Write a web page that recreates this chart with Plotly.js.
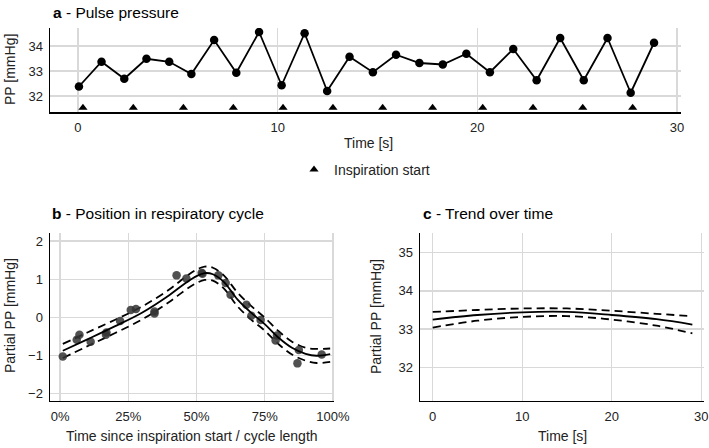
<!DOCTYPE html>
<html>
<head>
<meta charset="utf-8">
<script src="https://cdn.plot.ly/plotly-3.0.1.min.js"></script>
<style>html,body{margin:0;padding:0;background:#fff;}#chart{width:709px;height:448px;}</style>
</head>
<body>
<div id="chart"></div>
<script>
// Panel a: pulse pressure per beat
const ppTime = [0.05,1.18,2.32,3.43,4.57,5.68,6.82,7.93,9.07,10.2,11.35,12.48,13.6,14.77,15.93,17.1,18.27,19.45,20.63,21.8,22.97,24.15,25.33,26.52,27.68,28.85];
const ppValue = [32.38,33.37,32.69,33.49,33.37,32.88,34.24,32.93,34.56,32.43,34.51,32.2,33.57,32.95,33.65,33.32,33.26,33.69,32.95,33.88,32.63,34.32,32.63,34.32,32.13,34.13];
const inspTime = [0.25,2.77,5.28,7.78,10.27,12.77,15.26,17.76,20.27,22.79,25.28,27.78];
const inspLevel = [31.53,31.53,31.53,31.53,31.53,31.53,31.53,31.53,31.53,31.53,31.53,31.53];

// Panel b: position in respiratory cycle
const cyclePos = [0.01,0.061,0.071,0.112,0.168,0.17,0.22,0.259,0.278,0.346,0.346,0.427,0.463,0.519,0.522,0.58,0.607,0.625,0.683,0.701,0.735,0.795,0.79,0.875,0.87,0.959];
const partialPP = [-1.03,-0.59,-0.46,-0.64,-0.46,-0.40,-0.10,0.19,0.22,0.15,0.10,1.10,1.02,1.17,1.14,1.10,0.90,0.59,0.33,0.04,-0.07,-0.48,-0.61,-0.86,-1.21,-0.98];
const fitPos = [0.01,0.10,0.20,0.30,0.40,0.46,0.50,0.53,0.56,0.60,0.65,0.70,0.75,0.80,0.85,0.90,0.94,0.99];
const fitMid = [-0.88,-0.58,-0.24,0.12,0.58,0.90,1.08,1.16,1.13,0.93,0.47,0.12,-0.18,-0.53,-0.80,-0.96,-1.01,-0.97];
const fitUpper = [-0.70,-0.40,-0.07,0.28,0.73,1.06,1.25,1.33,1.30,1.10,0.65,0.30,-0.01,-0.36,-0.64,-0.80,-0.83,-0.82];
const fitLower = [-1.07,-0.76,-0.42,-0.06,0.40,0.72,0.90,0.98,0.96,0.76,0.29,-0.06,-0.35,-0.70,-0.98,-1.14,-1.20,-1.17];

// Panel c: trend over time
const trendTime = [0,5,10,15,20,25,29];
const trendMid = [33.25,33.37,33.44,33.45,33.37,33.26,33.12];
const trendUpper = [33.45,33.50,33.54,33.54,33.48,33.40,33.34];
const trendLower = [33.04,33.22,33.32,33.34,33.25,33.09,32.89];

const FONT = 'Liberation Sans, Arial, sans-serif';
const GRID = '#d9d9d9';
const DASH = '8px,5px';
const TICK = 13, AXT = 14, TTL = 15.5;

const traces = [
  {x: ppTime, y: ppValue, type: 'scatter', mode: 'lines+markers', xaxis: 'x', yaxis: 'y',
   line: {color: '#000', width: 1.8}, marker: {color: '#000', size: 8.5}, showlegend: false, hoverinfo: 'skip'},
  {x: inspTime, y: inspLevel, type: 'scatter', mode: 'markers', xaxis: 'x', yaxis: 'y', name: 'Inspiration start',
   marker: {color: '#000', size: 8, symbol: 'triangle-up'}, showlegend: true, hoverinfo: 'skip'},

  {x: fitPos, y: fitUpper, type: 'scatter', mode: 'lines', xaxis: 'x2', yaxis: 'y2',
   line: {color: '#000', width: 1.8, dash: DASH, shape: 'spline'}, showlegend: false, hoverinfo: 'skip'},
  {x: fitPos, y: fitLower, type: 'scatter', mode: 'lines', xaxis: 'x2', yaxis: 'y2',
   line: {color: '#000', width: 1.8, dash: DASH, shape: 'spline'}, showlegend: false, hoverinfo: 'skip'},
  {x: cyclePos, y: partialPP, type: 'scatter', mode: 'markers', xaxis: 'x2', yaxis: 'y2',
   marker: {color: 'rgba(50,50,50,0.85)', size: 8.5}, showlegend: false, hoverinfo: 'skip'},
  {x: fitPos, y: fitMid, type: 'scatter', mode: 'lines', xaxis: 'x2', yaxis: 'y2',
   line: {color: '#000', width: 1.8, shape: 'spline'}, showlegend: false, hoverinfo: 'skip'},

  {x: trendTime, y: trendUpper, type: 'scatter', mode: 'lines', xaxis: 'x3', yaxis: 'y3',
   line: {color: '#000', width: 1.8, dash: DASH, shape: 'spline'}, showlegend: false, hoverinfo: 'skip'},
  {x: trendTime, y: trendLower, type: 'scatter', mode: 'lines', xaxis: 'x3', yaxis: 'y3',
   line: {color: '#000', width: 1.8, dash: DASH, shape: 'spline'}, showlegend: false, hoverinfo: 'skip'},
  {x: trendTime, y: trendMid, type: 'scatter', mode: 'lines', xaxis: 'x3', yaxis: 'y3',
   line: {color: '#000', width: 1.8, shape: 'spline'}, showlegend: false, hoverinfo: 'skip'}
];

function ax(extra) {
  return Object.assign({
    showline: true, linecolor: '#000', linewidth: 1.5, mirror: false,
    showgrid: true, gridcolor: GRID, gridwidth: 1.3, zeroline: false,
    ticks: 'outside', ticklen: 3, tickcolor: 'rgba(0,0,0,0)',
    tickfont: {family: FONT, size: TICK, color: '#222'}, fixedrange: true
  }, extra);
}

const W = 709, H = 448;
const dx = (a, b) => [a / W, b / W];
const dy = (top, bot) => [1 - bot / H, 1 - top / H];
function note(text, px, py, size, extra) {
  return Object.assign({text: text, x: px / W, y: 1 - py / H, xref: 'paper', yref: 'paper',
    xanchor: 'center', yanchor: 'middle', showarrow: false,
    font: {family: FONT, size: size, color: '#222'}}, extra || {});
}

const layout = {
  width: W, height: H,
  margin: {l: 0, r: 0, t: 0, b: 0},
  paper_bgcolor: '#fff', plot_bgcolor: '#fff',
  font: {family: FONT, color: '#222'},
  showlegend: true,
  legend: {x: 294 / W, y: 1 - 170 / H, xanchor: 'left', yanchor: 'middle', orientation: 'h',
           font: {family: FONT, size: AXT, color: '#222'}, bgcolor: 'rgba(0,0,0,0)'},
  xaxis: ax({domain: dx(50, 681), range: [-1.4, 30.2], tickvals: [0, 10, 20, 30], anchor: 'y'}),
  yaxis: ax({domain: dy(28, 112), range: [31.36, 34.72], tickvals: [32, 33, 34], anchor: 'x'}),
  xaxis2: ax({domain: dx(50, 334), range: [-0.037, 1.004], tickvals: [0, 0.25, 0.5, 0.75, 1], tickformat: '.0%', anchor: 'y2'}),
  yaxis2: ax({domain: dy(232.7, 400.7), range: [-2.19, 2.22], tickvals: [-2, -1, 0, 1, 2], anchor: 'x2'}),
  xaxis3: ax({domain: dx(420, 704), range: [-1.42, 30.3], tickvals: [0, 10, 20, 30], anchor: 'y3'}),
  yaxis3: ax({domain: dy(232.7, 400.7), range: [31.13, 35.52], tickvals: [32, 33, 34, 35], anchor: 'x3'}),
  annotations: [
    note('<b>a</b> - Pulse pressure', 51, 12, TTL, {xanchor: 'left', font: {family: FONT, size: TTL, color: '#000'}}),
    note('<b>b</b> - Position in respiratory cycle', 50, 213, TTL, {xanchor: 'left', font: {family: FONT, size: TTL, color: '#000'}}),
    note('<b>c</b> - Trend over time', 421, 213, TTL, {xanchor: 'left', font: {family: FONT, size: TTL, color: '#000'}}),
    note('PP [mmHg]', 10, 70, AXT, {textangle: -90}),
    note('Time [s]', 368, 143, AXT),
    note('Partial PP [mmHg]', 10, 316, AXT, {textangle: -90}),
    note('Time since inspiration start / cycle length', 192, 436, AXT),
    note('Partial PP [mmHg]', 376, 316, AXT, {textangle: -90}),
    note('Time [s]', 562, 436, AXT)
  ]
};

Plotly.newPlot('chart', traces, layout, {staticPlot: true, displayModeBar: false});
</script>
</body>
</html>
